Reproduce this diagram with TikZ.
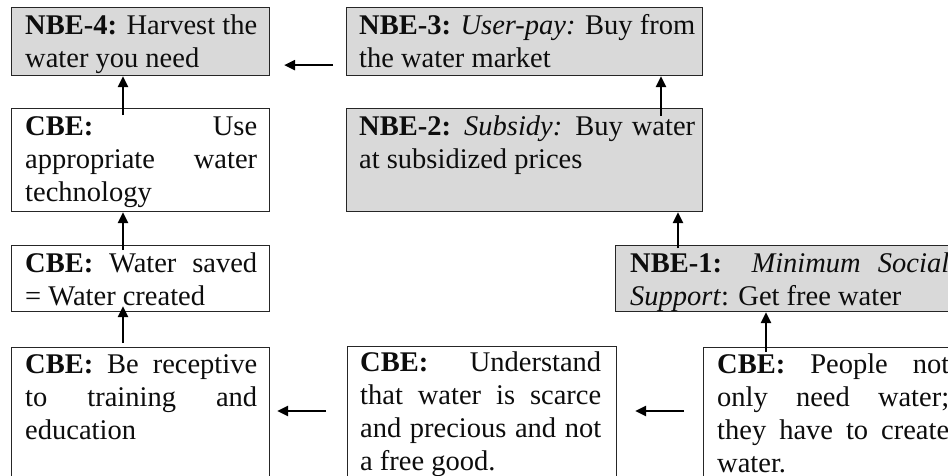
\documentclass[tikz,border=0pt]{standalone}
\usepackage{fontspec}
\setmainfont{Liberation Serif}
\usetikzlibrary{arrows.meta,calc}
\newcommand\fs{\fontsize{28.5pt}{33pt}\selectfont\hyphenpenalty=10000\exhyphenpenalty=10000}
\tikzset{
  box/.style={draw=black!85, line width=1.1pt, inner sep=0pt, anchor=north west},
  nbe/.style={box, fill=gray!30},
  cbe/.style={box, fill=white},
  txt/.style={inner sep=0pt, anchor=base west, align=justify, font=\fs, text=black!95},
  arr/.style={-{Triangle[length=11pt,width=10pt]}, line width=2.2pt}
}
\begin{document}
\begin{tikzpicture}[x=1pt,y=1pt]
\useasboundingbox (0,0) rectangle (948,-475);
\clip (0,0) rectangle (948,-475);
% boxes
\node[nbe, minimum width=258pt, minimum height=68pt] (nbe4) at (11,-7) {};
\node[nbe, minimum width=356pt, minimum height=68pt] (nbe3) at (346,-7) {};
\node[cbe, minimum width=258pt, minimum height=103pt] (tech) at (11,-108) {};
\node[nbe, minimum width=356pt, minimum height=103pt] (nbe2) at (346,-108) {};
\node[cbe, minimum width=258pt, minimum height=66pt] (saved) at (11,-245) {};
\node[nbe, minimum width=348pt, minimum height=66pt] (nbe1) at (615,-245) {};
\node[cbe, minimum width=258pt, minimum height=150pt] (recep) at (11,-347) {};
\node[cbe, minimum width=269pt, minimum height=150pt] (under) at (347,-346) {};
\node[cbe, minimum width=260pt, minimum height=150pt] (people) at (703,-347) {};
% texts
\node[txt, text width=232pt] (t4) at ($(nbe4.north west)+(14,-27.5)$)
  {\textbf{NBE-4:} Harvest the\linebreak water you need};
\node[txt, text width=336pt] (t3) at ($(nbe3.north west)+(13,-27.5)$)
  {\textbf{NBE-3:} \textit{User-pay:} Buy from\linebreak the water market};
\node[txt, text width=232pt] (ttech) at ($(tech.north west)+(14,-27.5)$)
  {\textbf{CBE:} Use\linebreak appropriate water\linebreak technology};
\node[txt, text width=336pt] (t2) at ($(nbe2.north west)+(13,-27.5)$)
  {\textbf{NBE-2:} \textit{Subsidy:} Buy water\linebreak at subsidized prices};
\node[txt, text width=232pt] (tsaved) at ($(saved.north west)+(14,-27.5)$)
  {\textbf{CBE:} Water saved\linebreak = Water created};
\node[txt, text width=319pt] (t1) at ($(nbe1.north west)+(15,-27.5)$)
  {\textbf{NBE-1:} \textit{Minimum Social}\linebreak \textit{Support}: Get free water};
\node[txt, text width=232pt] (trecep) at ($(recep.north west)+(14,-26)$)
  {\textbf{CBE:} Be receptive\linebreak to training and\linebreak education};
\node[txt, text width=241pt] (tunder) at ($(under.north west)+(13,-25.5)$)
  {\textbf{CBE:} Understand\linebreak that water is scarce\linebreak and precious and not\linebreak a free good.};
\node[txt, text width=232pt] (tpeople) at ($(people.north west)+(14,-26)$)
  {\textbf{CBE:} People not\linebreak only need water;\linebreak they have to create\linebreak water.};
% arrows
\draw[arr] ($(tech.north west)+(112,-7)$) -- ($(nbe4.south west)+(112,0)$);
\draw[arr] ($(saved.north west)+(112,-5)$) -- ($(tech.south west)+(112,0)$);
\draw[arr] ($(recep.north west)+(112,4)$) -- ($(saved.south west)+(112,6)$);
\draw[arr] ($(nbe2.north west)+(315,-8)$) -- ($(nbe3.south west)+(315,0)$);
\draw[arr] ($(nbe1.north west)+(63,-3)$) -- ($(nbe2.south west)+(332,0)$);
\draw[arr] ($(people.north west)+(63,-5)$) -- ($(nbe1.south west)+(151,0)$);
\draw[arr] ($(nbe3.south west)+(-13,11)$) -- ($(nbe4.south east)+(14,11)$);
\draw[arr] ($(under.north west)+(-21,-65)$) -- ($(recep.north east)+(7,-64)$);
\draw[arr] ($(people.north west)+(-19,-64)$) -- ($(under.north east)+(18,-65)$);
\end{tikzpicture}
\end{document}
